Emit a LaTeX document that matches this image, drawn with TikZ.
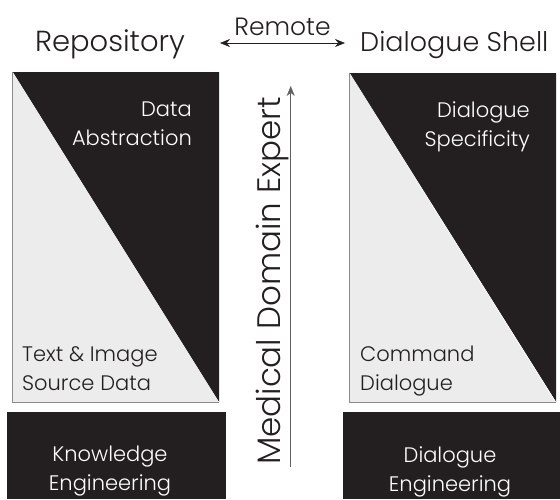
\documentclass[tikz,border=0pt]{standalone}
\usepackage{fontspec}
\setmainfont{Poppins Light}
\usetikzlibrary{arrows.meta}
\definecolor{ink}{HTML}{231F20}
\definecolor{pale}{HTML}{ECECEC}
\definecolor{edge}{HTML}{8A8A8A}
\tikzset{
  head/.style={font=\fontsize{29}{32}\selectfont, text=ink, inner sep=0pt},
  inner/.style={font=\fontsize{21}{29}\selectfont, inner sep=0pt},
  whitetxt/.style={inner, text=white},
  darktxt/.style={inner, text=ink},
  >={Stealth[length=10pt,width=8pt]},
  arr/.style={draw=ink, line width=0.6pt},
}
\begin{document}
\begin{tikzpicture}[x=1pt,y=-1pt]
\useasboundingbox (0,0) rectangle (560,499);
% left panel
\fill[ink] (12.7,72) -- (219,72) -- (219,402) -- cycle;
\fill[pale] (12.7,72) -- (219,402) -- (12.7,402) -- cycle;
\draw[edge, line width=0.8pt] (12.7,72) -- (12.7,402) -- (219,402);
% right panel
\fill[ink] (349,73) -- (556,73) -- (556,402) -- cycle;
\fill[pale] (349,73) -- (556,402) -- (349,402) -- cycle;
\draw[white, line width=0.6pt] (350,74) -- (555,401);
\draw[edge, line width=0.8pt] (349,73) -- (349,402) -- (556,402);
% bottom boxes
\fill[ink] (7,412) rectangle (226,499);
\fill[ink] (343,412) rectangle (560,499);
% headings
\node[head, anchor=base] (repo) at (110,51) {Repository};
\node[head, font=\fontsize{27}{30}\selectfont, anchor=base west] (shell) at (360,51) {Dialogue Shell};
\node[font=\fontsize{25}{28}\selectfont, text=ink, inner sep=0pt, anchor=base] (remote) at (282.5,35) {Remote};
\coordinate (rl) at (220,43);
\coordinate (rr) at (345,43);
\draw[arr, <->] (rl) -- (rr);
% vertical arrow
\coordinate (vb) at (290.7,467);
\coordinate (vt) at (290.7,86);
\draw[arr, draw=edge!60!ink, ->] (vb) -- (vt);
\node[font=\fontsize{32.5}{34}\selectfont, text=ink, inner sep=0pt, rotate=90, anchor=base] (mde) at (280,281) {Medical Domain Expert};
% panel texts
\node[whitetxt, align=right, anchor=north east] (da) at (192,102) {Data\\Abstraction};
\node[whitetxt, align=right, anchor=north east] (ds) at (530,102) {Dialogue\\Specificity};
\node[darktxt, align=left, anchor=north west] (ti) at (22,346) {Text \& Image\\Source Data};
\node[darktxt, align=left, anchor=north west] (cd) at (360,346) {Command\\Dialogue};
\node[whitetxt, align=center, anchor=north] (ke) at (110,446) {Knowledge\\Engineering};
\node[whitetxt, align=center, anchor=north] (de) at (450,446) {Dialogue\\Engineering};
\end{tikzpicture}
\end{document}
